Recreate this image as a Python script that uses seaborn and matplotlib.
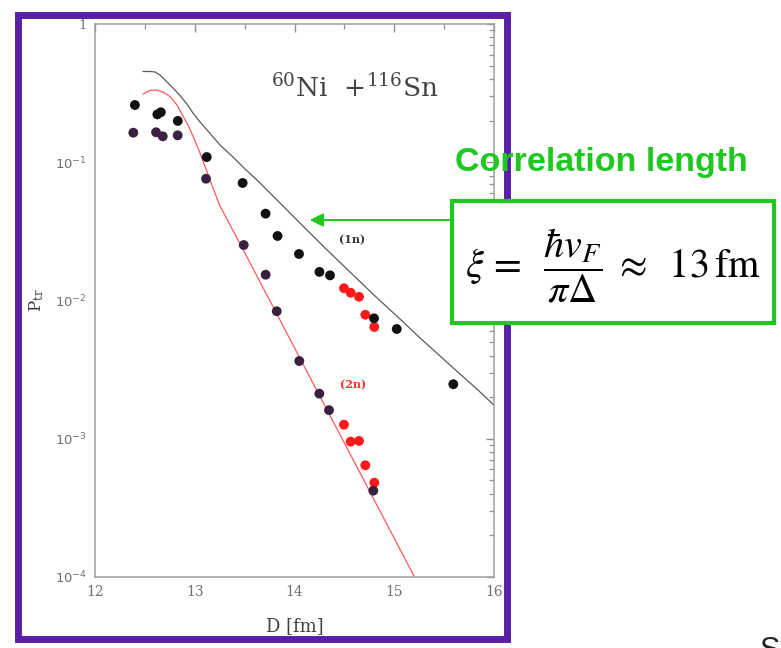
import numpy as np
import pandas as pd
import matplotlib
matplotlib.use("Agg")
import matplotlib.pyplot as plt
import matplotlib.patches as mpatches
import seaborn as sns

# ---- data -------------------------------------------------------------
# one-neutron transfer probability (measured points)
d_1n_black = [12.40, 12.625, 12.66, 12.83, 13.12, 13.48, 13.71, 13.83, 14.045,
              14.25, 14.356, 14.797, 15.025, 15.592]
p_1n_black = [0.2595, 0.222, 0.230, 0.199, 0.109, 0.0708, 0.0425, 0.0293, 0.0217,
              0.0161, 0.0152, 0.00743, 0.00622, 0.00248]
d_1n_red = [14.496, 14.563, 14.647, 14.710, 14.800]
p_1n_red = [0.01226, 0.01138, 0.01064, 0.00789, 0.00643]

# two-neutron transfer probability (measured points)
d_2n_purple = [12.384, 12.612, 12.679, 12.829, 13.113, 13.491, 13.711, 13.822,
               14.048, 14.249, 14.346, 14.790]
p_2n_purple = [0.1636, 0.1647, 0.154, 0.1566, 0.0760, 0.0252, 0.01537, 0.00836,
               0.00365, 0.00212, 0.00161, 4.21e-4]
d_2n_red = [14.496, 14.563, 14.647, 14.710, 14.800]
p_2n_red = [1.264e-3, 9.53e-4, 9.64e-4, 6.43e-4, 4.81e-4]

# calculated curves
d_calc_1n = [12.481, 12.551, 12.6015, 12.6516, 12.7018, 12.772, 12.852, 12.922,
             12.982, 13.0526, 13.1228, 13.193, 13.2531, 13.3835, 13.5038, 13.6241,
             13.7544, 13.9048, 14.0551, 14.3058, 14.5564, 14.807, 15.0576, 15.2581,
             15.4586, 15.6591, 15.8396, 16.0]
p_calc_1n = [0.4533, 0.4533, 0.4496, 0.4277, 0.3935, 0.3501, 0.3040, 0.2638,
             0.2271, 0.1955, 0.1711, 0.1498, 0.1333, 0.1091, 0.0894, 0.0744,
             0.0599, 0.0467, 0.0363, 0.0240, 0.01607, 0.01078, 0.00735, 0.00536,
             0.00397, 0.00294, 0.00225, 0.00175]
d_calc_2n = [12.481, 12.551, 12.6115, 12.6817, 12.7519, 12.822, 12.882, 12.932,
             12.982, 13.0526, 13.1128, 13.183, 13.2531, 13.4867, 14.790, 15.258]
p_calc_2n = [0.3116, 0.3304, 0.3332, 0.3222, 0.2989, 0.2595, 0.2161, 0.1860,
             0.1548, 0.1167, 0.0894, 0.0651, 0.0483, 0.02318, 3.71e-4, 8.4e-5]

x_ticks = [12, 13, 14, 15, 16]
y_ticks = [1e-4, 1e-3, 1e-2, 1e-1, 1]
y_tick_labels = [r"$10^{-4}$", r"$10^{-3}$", r"$10^{-2}$", r"$10^{-1}$", "1"]

# ---- styling ----------------------------------------------------------
sns.set_theme(style="white")
plt.rcParams["font.family"] = ["DejaVu Serif", "DejaVu Sans"]
plt.rcParams.update({
    "xtick.direction": "in", "ytick.direction": "in",
    "xtick.top": True, "ytick.right": True,
    "xtick.minor.visible": True, "ytick.minor.visible": True,
})

W, H = 781, 648
fig = plt.figure(figsize=(W / 100, H / 100), dpi=100)
fig.patch.set_facecolor("white")

def fx(px):
    return px / W

def fy(py):
    return 1 - py / H

ax = fig.add_axes([fx(95), fy(577), fx(494) - fx(95), (577 - 24) / H])
ax.set_yscale("log")

calc1 = pd.DataFrame({"D": d_calc_1n, "P": p_calc_1n})
calc2 = pd.DataFrame({"D": d_calc_2n, "P": p_calc_2n})
sns.lineplot(data=calc1, x="D", y="P", ax=ax, color="#5a5a5a", lw=0.9,
             sort=False, estimator=None)
sns.lineplot(data=calc2, x="D", y="P", ax=ax, color="#ff5a5a", lw=0.9,
             sort=False, estimator=None)

pts = [
    (d_1n_red, p_1n_red, "#ff1a1a"),
    (d_1n_black, p_1n_black, "#111111"),
    (d_2n_red, p_2n_red, "#ff1a1a"),
    (d_2n_purple, p_2n_purple, "#3b2140"),
]
for dd, pp, col in pts:
    df = pd.DataFrame({"D": dd, "P": pp})
    sns.scatterplot(data=df, x="D", y="P", ax=ax, color=col, s=50,
                    edgecolor="none", zorder=3)

ax.set_xlim(12, 16)
ax.set_ylim(1e-4, 1)
ax.set_xticks(x_ticks)
ax.set_xticklabels([str(t) for t in x_ticks])
ax.xaxis.set_minor_locator(matplotlib.ticker.MultipleLocator(0.5))
ax.set_yticks(y_ticks)
ax.set_yticklabels(y_tick_labels)
ax.yaxis.set_minor_locator(matplotlib.ticker.LogLocator(base=10, subs=np.arange(2, 10)))
ax.yaxis.set_minor_formatter(matplotlib.ticker.NullFormatter())

for s in ax.spines.values():
    s.set_color("#a0a0a0")
    s.set_linewidth(1.1)
ax.tick_params(which="major", length=6, width=1, color="#909090",
               labelcolor="#707070", labelsize=10, pad=6)
ax.tick_params(which="minor", length=3.5, width=0.9, color="#909090")
for lab in ax.get_yticklabels():
    lab.set_fontsize(9.5)

ax.set_xlabel("D [fm]", fontsize=13, color="#404040", labelpad=13)
ax.set_ylabel(r"$\mathrm{P_{tr}}$", fontsize=12, color="#404040", labelpad=6,
              math_fontfamily="dejavuserif")

ax.text(0.652, 0.884, r"$^{60}$Ni  $+^{116}$Sn", transform=ax.transAxes,
        ha="center", va="center", fontsize=19, color="#444444",
        math_fontfamily="dejavuserif")
ax.text(14.576, 0.0274, "(1n)", ha="center", va="center", fontsize=8,
        color="#333333", fontweight="bold")
ax.text(14.587, 0.00245, "(2n)", ha="center", va="center", fontsize=8,
        color="#ff2a2a", fontweight="bold")

# ---- slide decorations ----------------------------------------------
purple = "#5a1fa6"
fig.add_artist(mpatches.Rectangle((fx(17.5), fy(638.5)), fx(506.5) - fx(17.5),
                                  (638.5 - 14.5) / H, transform=fig.transFigure,
                                  fill=False, edgecolor=purple, lw=5.0, zorder=5))

green = "#1ec81e"
fig.add_artist(mpatches.Rectangle((fx(452), fy(323)), fx(774) - fx(452),
                                  (323 - 201) / H, transform=fig.transFigure,
                                  facecolor="white", edgecolor=green, lw=3.0,
                                  zorder=6))

fig.text(fx(601), fy(163), "Correlation length", ha="center", va="center",
         fontsize=24.5, fontweight="bold", color=green,
         family=["Liberation Sans", "DejaVu Sans"], zorder=7)

fig.text(fx(613), fy(266),
         r"$\xi\,=\;\;\dfrac{\hbar v_F}{\pi\Delta}\;\approx\;\;13\,\mathrm{fm}$",
         ha="center", va="center", fontsize=29, color="black",
         math_fontfamily="stix", zorder=7)

fig.add_artist(matplotlib.patches.FancyArrowPatch(
    (fx(452), fy(220)), (fx(307), fy(220)), transform=fig.transFigure,
    arrowstyle="-|>", mutation_scale=20, color=green, lw=1.4, zorder=7))

fig.text(fx(770), fy(636), "S", ha="center", va="top", fontsize=22,
         color="#222222", family=["Liberation Sans", "DejaVu Sans"])

fig.savefig("out.png", dpi=100)
